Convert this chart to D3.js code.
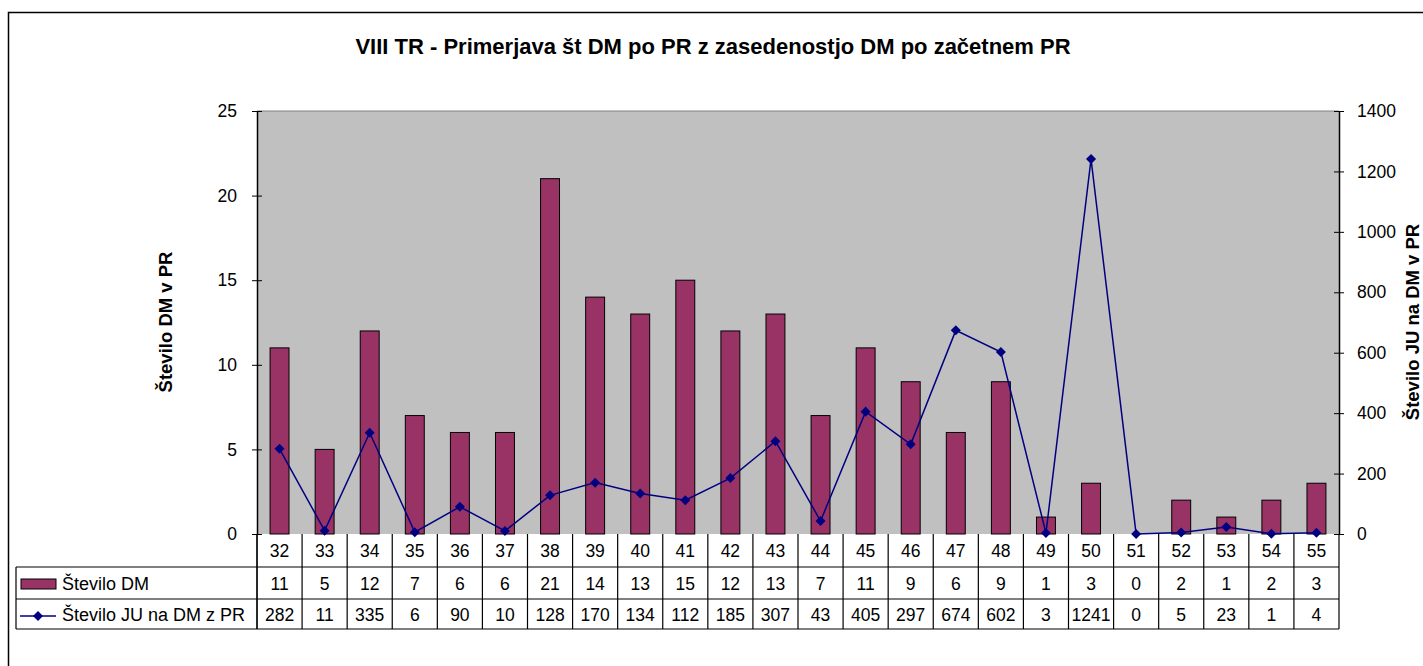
<!DOCTYPE html>
<html>
<head>
<meta charset="utf-8">
<script src="https://cdn.jsdelivr.net/npm/d3@7"></script>
<style>
  body { margin: 0; background: #fff; }
  svg text { font-family: "Liberation Sans", Arial, sans-serif; }
</style>
</head>
<body>
<div class="wrapper"></div>
<script>
const categories = ["32","33","34","35","36","37","38","39","40","41","42","43","44","45","46","47","48","49","50","51","52","53","54","55"]
const steviloDM = [11,5,12,7,6,6,21,14,13,15,12,13,7,11,9,6,9,1,3,0,2,1,2,3]
const steviloJU = [282,11,335,6,90,10,128,170,134,112,185,307,43,405,297,674,602,3,1241,0,5,23,1,4]
const leftTicks = [0,5,10,15,20,25]
const rightTicks = [0,200,400,600,800,1000,1200,1400]

const width = 1423, height = 666
const m = { left: 257, right: 1339, top: 111, bottom: 534 }
const rowH = [33, 32, 30]
const fs = "17.5px"

let svg = d3.select(".wrapper")
.append("svg")
.attr("width", width)
.attr("height", height)

// outer frame
svg.append("rect")
.attr("x", 8.5).attr("y", 12.5)
.attr("width", 1420).attr("height", 670)
.style("fill", "none").style("stroke", "#000").style("stroke-width", 1.5)

svg.append("text")
.attr("x", 713).attr("y", 54)
.attr("text-anchor", "middle")
.style("font-size", "22px").style("font-weight", "bold")
.text("VIII TR - Primerjava št DM po PR z zasedenostjo DM po začetnem PR")

let x = d3.scaleBand()
.domain(categories)
.range([m.left, m.right])

let y = d3.scaleLinear().domain([0, 25]).range([m.bottom, m.top])
let y2 = d3.scaleLinear().domain([0, 1400]).range([m.bottom, m.top])

// plot background
svg.append("rect")
.attr("x", m.left).attr("y", m.top)
.attr("width", m.right - m.left).attr("height", m.bottom - m.top)
.style("fill", "#c0c0c0")

svg.append("line")
.attr("x1", m.left).attr("x2", m.right)
.attr("y1", m.top).attr("y2", m.top)
.style("stroke", "#808080")

// bars
let bw = x.bandwidth() * 0.42
svg.selectAll(".bar")
.data(steviloDM)
.enter()
.append("rect")
.attr("class", "bar")
.attr("x", (d, i) => x(categories[i]) + x.bandwidth() / 2 - bw / 2)
.attr("y", d => y(d))
.attr("width", bw)
.attr("height", d => y(0) - y(d))
.style("fill", "#993366")
.style("stroke", "#000")
.style("stroke-width", 1)

// line
let line = d3.line()
.x((d, i) => x(categories[i]) + x.bandwidth() / 2)
.y(d => y2(d))

svg.append("path")
.datum(steviloJU)
.attr("d", line)
.style("fill", "none")
.style("stroke", "#000080")
.style("stroke-width", 1.5)

let diamond = d3.symbol().type(d3.symbolDiamond2).size(64)
svg.selectAll(".pt")
.data(steviloJU)
.enter()
.append("path")
.attr("class", "pt")
.attr("d", diamond)
.attr("transform", (d, i) => `translate(${x(categories[i]) + x.bandwidth() / 2},${y2(d)})`)
.style("fill", "#000080")

// axes
let yAxis = svg.append("g")
.attr("transform", `translate(${m.left},0)`)
.call(d3.axisLeft(y).tickValues(leftTicks).tickSizeInner(5).tickSizeOuter(0).tickPadding(15))
yAxis.selectAll(".tick line").attr("x2", 5).attr("x1", -5)

let y2Axis = svg.append("g")
.attr("transform", `translate(${m.right},0)`)
.call(d3.axisRight(y2).tickValues(rightTicks).tickFormat(d3.format("d")).tickSizeInner(5).tickSizeOuter(0).tickPadding(13))
y2Axis.selectAll(".tick line").attr("x1", -5).attr("x2", 5)

svg.selectAll(".domain").style("stroke", "#000").style("stroke-width", 1.5)
svg.selectAll(".tick text").style("font-size", fs).style("fill", "#000").style("font-family", "Liberation Sans, Arial, sans-serif")

svg.append("text")
.attr("transform", `translate(172,322) rotate(-90)`)
.attr("text-anchor", "middle")
.style("font-size", "18.5px").style("font-weight", "bold")
.text("Število DM v PR")

svg.append("text")
.attr("transform", `translate(1419,322) rotate(-90)`)
.attr("text-anchor", "middle")
.style("font-size", "18.5px").style("font-weight", "bold")
.text("Število JU na DM v PR")

// data table
let r0 = m.bottom, r1 = r0 + rowH[0], r2 = r1 + rowH[1], r3 = r2 + rowH[2]
let tbl = svg.append("g").style("stroke", "#000").style("stroke-width", 1.2)

tbl.append("line").attr("x1", m.left).attr("x2", m.left).attr("y1", r0).attr("y2", r3)
tbl.append("line").attr("x1", m.right).attr("x2", m.right).attr("y1", r0).attr("y2", r3)
tbl.append("line").attr("x1", 16).attr("x2", 16).attr("y1", r1).attr("y2", r3)
;[r1, r2, r3].forEach(yy => {
  tbl.append("line").attr("x1", 16).attr("x2", m.right).attr("y1", yy).attr("y2", yy)
})
categories.forEach(c => {
  tbl.append("line").attr("x1", x(c)).attr("x2", x(c)).attr("y1", r0).attr("y2", r3)
})

const rows = [[categories, r0, rowH[0]], [steviloDM, r1, rowH[1]], [steviloJU, r2, rowH[2]]]
rows.forEach(([vals, top, h]) => {
  svg.selectAll(null)
  .data(vals)
  .enter()
  .append("text")
  .attr("x", (d, i) => x(categories[i]) + x.bandwidth() / 2)
  .attr("y", top + h / 2 + 6.5)
  .attr("text-anchor", "middle")
  .style("font-size", fs)
  .text(d => d)
})

// legend keys
svg.append("rect")
.attr("x", 21).attr("y", r1 + 12)
.attr("width", 35).attr("height", 10)
.style("fill", "#993366").style("stroke", "#000")

svg.append("text")
.attr("x", 62).attr("y", r1 + rowH[1] / 2 + 6.5)
.style("font-size", "18px")
.text("Število DM")

let ly = r2 + rowH[2] / 2 + 2
svg.append("line")
.attr("x1", 20).attr("x2", 56).attr("y1", ly).attr("y2", ly)
.style("stroke", "#000080").style("stroke-width", 1.5)
svg.append("path")
.attr("d", diamond)
.attr("transform", `translate(38,${ly})`)
.style("fill", "#000080")

svg.append("text")
.attr("x", 62).attr("y", r2 + rowH[2] / 2 + 6.5)
.style("font-size", "18px")
.text("Število JU na DM z PR")
</script>
</body>
</html>
